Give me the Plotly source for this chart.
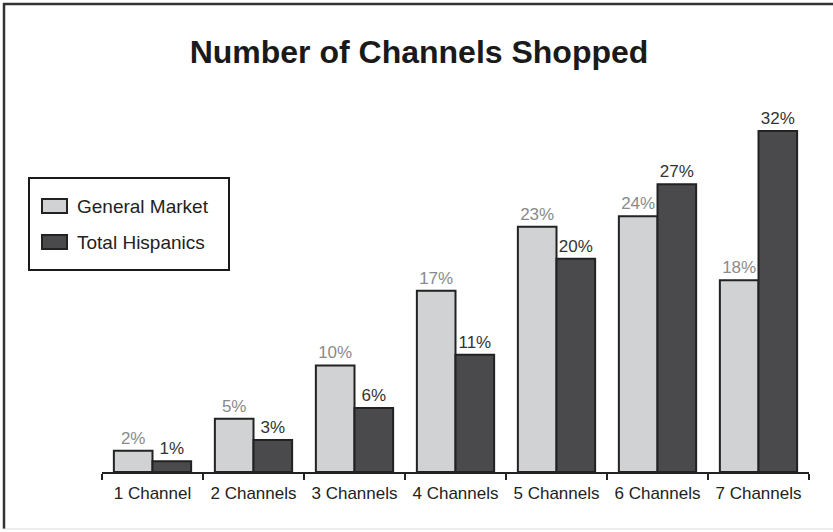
import plotly.graph_objects as go

categories = ["1 Channel", "2 Channels", "3 Channels", "4 Channels",
              "5 Channels", "6 Channels", "7 Channels"]
general_market = [2, 5, 10, 17, 23, 24, 18]
total_hispanics = [1, 3, 6, 11, 20, 27, 32]
series_names = ["General Market", "Total Hispanics"]
fill_colors = ["#d1d2d4", "#4a4a4c"]
label_colors = ["#8a8a8a", "#333333"]

FONT = "Liberation Sans, Arial, Helvetica, sans-serif"
W, H = 833, 532
M_L, M_R, M_T, M_B = 102, 24, 100, 60
PW, PH = W - M_L - M_R, H - M_T - M_B


def px_x(x):
    return (x - M_L) / PW


def px_y(y):
    return (H - M_B - y) / PH


fig = go.Figure()
for name, vals, fc, lc in zip(series_names, [general_market, total_hispanics],
                              fill_colors, label_colors):
    fig.add_trace(go.Bar(
        name=name, x=categories, y=vals,
        marker=dict(color=fc, line=dict(color="#222222", width=2)),
        texttemplate="%{y}%", textposition="outside", constraintext="none",
        textfont=dict(color=lc, size=17, family=FONT),
        cliponaxis=False, showlegend=False,
    ))

# outer frame: dark top and left edges, faint bottom edge
frame = [
    (3, 4, W, 4, "#333333", 2.5),
    (4, 3, 4, 529, "#333333", 2.5),
    (3, 529, W, 529, "#dddddd", 1),
]
for x0, y0, x1, y1, c, w in frame:
    fig.add_shape(type="line", xref="paper", yref="paper",
                  x0=px_x(x0), x1=px_x(x1), y0=px_y(y0), y1=px_y(y1),
                  line=dict(color=c, width=w))

# legend box with wide swatches
fig.add_shape(type="rect", xref="paper", yref="paper",
              x0=px_x(29), x1=px_x(229), y0=px_y(178), y1=px_y(270),
              line=dict(color="#1a1a1a", width=2), fillcolor="white")
for i, (name, fc) in enumerate(zip(series_names, fill_colors)):
    cy = 206 + i * 36
    fig.add_shape(type="rect", xref="paper", yref="paper",
                  x0=px_x(42), x1=px_x(67), y0=px_y(cy - 7), y1=px_y(cy + 7),
                  line=dict(color="#222222", width=2), fillcolor=fc)
    fig.add_annotation(text=name, xref="paper", yref="paper",
                       x=px_x(75), y=px_y(cy), xanchor="left", yanchor="middle",
                       showarrow=False,
                       font=dict(size=19, color="#222222", family=FONT))

fig.update_layout(
    width=W, height=H,
    margin=dict(l=M_L, r=M_R, t=M_T, b=M_B),
    paper_bgcolor="white", plot_bgcolor="white",
    barmode="group", bargap=0.235, bargroupgap=0,
    font=dict(family=FONT, color="#222222"),
    title=dict(text="<b>Number of Channels Shopped</b>",
               x=0.503, xanchor="center", y=1 - 52 / H, yanchor="middle",
               yref="container", font=dict(size=32, color="#1a1a1a", family=FONT)),
    xaxis=dict(showline=True, linecolor="#222222", linewidth=2,
               ticks="outside", tickson="boundaries", ticklen=6,
               tickcolor="#222222", tickwidth=2, ticklabelstandoff=5,
               tickfont=dict(size=17, color="#222222", family=FONT),
               showgrid=False, zeroline=False),
    yaxis=dict(visible=False, range=[0, 34.9], showgrid=False, zeroline=False),
    showlegend=False,
)

fig.write_html("out.html")
